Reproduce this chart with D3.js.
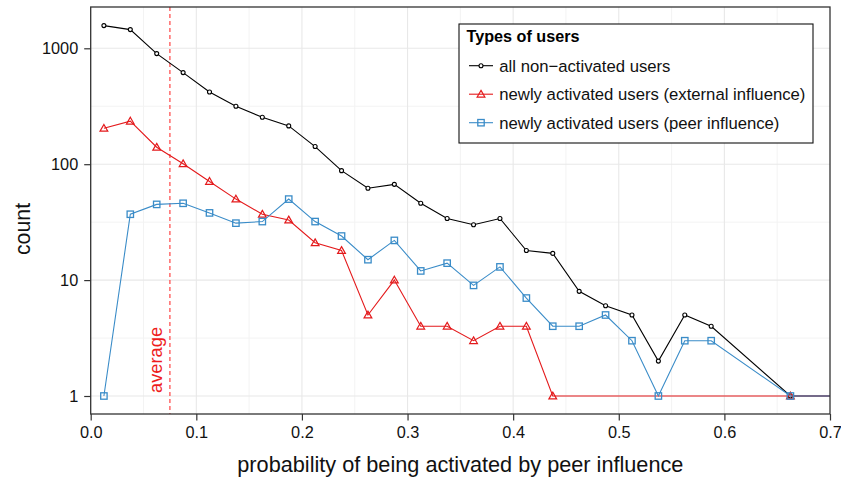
<!DOCTYPE html>
<html>
<head>
<meta charset="utf-8">
<script src="https://cdn.jsdelivr.net/npm/d3@7"></script>
<style>
  html, body { margin: 0; padding: 0; background: #fff; }
  svg { display: block; font-family: "Liberation Sans", Arial, Helvetica, sans-serif; }
</style>
</head>
<body>
<svg id="chart" width="841" height="477"></svg>
<script>
// ---- data ----
const binCenters = [0.0125, 0.0375, 0.0625, 0.0875, 0.1125, 0.1375, 0.1625, 0.1875, 0.2125, 0.2375,
                    0.2625, 0.2875, 0.3125, 0.3375, 0.3625, 0.3875, 0.4125, 0.4375, 0.4625, 0.4875,
                    0.5125, 0.5375, 0.5625, 0.5875];
const allNonActivated = [1570, 1450, 900, 617, 420, 316, 254, 214, 142, 88,
                         62, 67, 46, 34, 30, 34, 18, 17, 8, 6,
                         5, 2, 5, 4];
const externalInfluence = [204, 235, 140, 101, 71, 50, 37, 33, 21, 18,
                           5, 10, 4, 4, 3, 4, 4, 1];
const peerInfluence = [1, 37, 45, 46, 38, 31, 32, 50, 32, 24,
                       15, 22, 12, 14, 9, 13, 7, 4, 4, 5,
                       3, 1, 3, 3];
// tail points (beyond the binned region, continuing at count 1)
const tailX = [0.6625, 0.7125];
const tailY = [1, 1];
const averageX = 0.075;
const xTicks = [0, 0.1, 0.2, 0.3, 0.4, 0.5, 0.6, 0.7];
const xMinorGrid = [0.05, 0.15, 0.25, 0.35, 0.45, 0.55, 0.65];
const yTicks = [1, 10, 100, 1000];
const yMinorGrid = [Math.sqrt(10), Math.sqrt(1000), Math.sqrt(100000)];
const seriesNames = ["all non\u2212activated users",
                     "newly activated users (external influence)",
                     "newly activated users (peer influence)"];
const seriesColors = ["#000000", "#e41a1c", "#3a8cc8"];

function build(values) {
  const pts = values.map((v, i) => ({x: binCenters[i], y: v}));
  tailX.forEach((x, i) => pts.push({x: x, y: tailY[i]}));
  return pts;
}
const series = [
  {name: seriesNames[0], color: seriesColors[0], shape: "circle", data: build(allNonActivated)},
  {name: seriesNames[1], color: seriesColors[1], shape: "triangle", data: build(externalInfluence)},
  {name: seriesNames[2], color: seriesColors[2], shape: "square", data: build(peerInfluence)}
];

// ---- layout ----
const L = 90.7, R = 830, T = 7, B = 414;
const x = d3.scaleLinear().domain([0, 0.7]).range([L, R]);
const y = d3.scaleLog().domain([1, 1000]).range([396, 48.3]);

const svg = d3.select("#chart");

svg.append("defs").append("clipPath").attr("id", "plotclip")
  .append("rect").attr("x", L).attr("y", T).attr("width", R - L).attr("height", B - T);

// grid
const grid = svg.append("g");
grid.selectAll(".xminor").data(xMinorGrid).enter().append("line")
  .attr("x1", d => x(d)).attr("x2", d => x(d)).attr("y1", T).attr("y2", B)
  .attr("stroke", "#f3f3f3").attr("stroke-width", 1);
grid.selectAll(".yminor").data(yMinorGrid).enter().append("line")
  .attr("y1", d => y(d)).attr("y2", d => y(d)).attr("x1", L).attr("x2", R)
  .attr("stroke", "#f3f3f3").attr("stroke-width", 1);
grid.selectAll(".xmajor").data(xTicks.slice(1, -1)).enter().append("line")
  .attr("x1", d => x(d)).attr("x2", d => x(d)).attr("y1", T).attr("y2", B)
  .attr("stroke", "#e8e8e8").attr("stroke-width", 1.1);
grid.selectAll(".ymajor").data(yTicks).enter().append("line")
  .attr("y1", d => y(d)).attr("y2", d => y(d)).attr("x1", L).attr("x2", R)
  .attr("stroke", "#e8e8e8").attr("stroke-width", 1.1);

// average line
svg.append("line")
  .attr("x1", x(averageX)).attr("x2", x(averageX)).attr("y1", T).attr("y2", B)
  .attr("stroke", "#ff4444").attr("stroke-width", 1.2).attr("stroke-dasharray", "4,3");
svg.append("text")
  .attr("transform", `translate(${x(averageX) - 8},393) rotate(-90)`)
  .attr("fill", "#ee1c1c").attr("font-size", 18.3).text("average");

// series
const plot = svg.append("g").attr("clip-path", "url(#plotclip)");
const line = d3.line().x(d => x(d.x)).y(d => y(d.y));
const tri = d3.symbol().type(d3.symbolTriangle).size(26);
function drawMarker(sel, shape, color) {
  if (shape === "circle") {
    sel.append("circle").attr("r", 2).attr("fill", "#fff").attr("stroke", color).attr("stroke-width", 1.1);
  } else if (shape === "triangle") {
    sel.append("path").attr("d", tri()).attr("transform", "translate(0,0.6)")
      .attr("fill", "none").attr("stroke", color).attr("stroke-width", 1.2);
  } else {
    sel.append("rect").attr("x", -3.2).attr("y", -3.2).attr("width", 6.4).attr("height", 6.4)
      .attr("fill", "none").attr("stroke", color).attr("stroke-width", 1.3);
  }
}
series.forEach(s => {
  plot.append("path").datum(s.data).attr("d", line)
    .attr("fill", "none").attr("stroke", s.color).attr("stroke-width", 1.1);
  const g = plot.selectAll(null).data(s.data).enter().append("g")
    .attr("transform", d => `translate(${x(d.x)},${y(d.y)})`);
  g.each(function() { drawMarker(d3.select(this), s.shape, s.color); });
});

// frame
svg.append("rect").attr("x", L).attr("y", T).attr("width", R - L).attr("height", B - T)
  .attr("fill", "none").attr("stroke", "#333").attr("stroke-width", 1.3);

// axes
const xAxis = svg.append("g").attr("transform", `translate(0,${B})`)
  .call(d3.axisBottom(x).tickValues(xTicks).tickFormat(d3.format(".1f")).tickSize(6.5).tickPadding(6));
const yAxis = svg.append("g").attr("transform", `translate(${L},0)`)
  .call(d3.axisLeft(y).tickValues(yTicks).tickFormat(d3.format("d")).tickSize(6.5).tickPadding(6));
[xAxis, yAxis].forEach(a => {
  a.select(".domain").remove();
  a.selectAll(".tick line").attr("stroke", "#333").attr("stroke-width", 1.2);
  a.selectAll(".tick text").attr("fill", "#111").attr("font-size", 16.3)
    .attr("font-family", "'Liberation Sans', Arial, sans-serif");
});

// axis titles
svg.append("text").attr("x", (L + R) / 2).attr("y", 472).attr("text-anchor", "middle")
  .attr("font-size", 21.7).attr("fill", "#111").text("probability of being activated by peer influence");
svg.append("text").attr("transform", `translate(30,229) rotate(-90)`).attr("text-anchor", "middle")
  .attr("font-size", 21.3).attr("fill", "#111").text("count");

// legend
const lg = svg.append("g");
lg.append("rect").attr("x", 459).attr("y", 24).attr("width", 354).attr("height", 119)
  .attr("fill", "#fff").attr("stroke", "#111").attr("stroke-width", 1.1);
lg.append("text").attr("x", 466.5).attr("y", 42.3).attr("font-size", 16.2).attr("font-weight", "bold")
  .attr("fill", "#000").text("Types of users");
series.forEach((s, i) => {
  const cy = 65.7 + i * 28.5;
  const row = lg.append("g");
  row.append("line").attr("x1", 469).attr("x2", 493).attr("y1", cy).attr("y2", cy)
    .attr("stroke", s.color).attr("stroke-width", 1.1);
  const m = row.append("g").attr("transform", `translate(481,${cy})`);
  drawMarker(m, s.shape, s.color);
  row.append("text").attr("x", 499.3).attr("y", cy + 5.8).attr("font-size", 16.7).attr("fill", "#111").text(s.name);
});
</script>
</body>
</html>
